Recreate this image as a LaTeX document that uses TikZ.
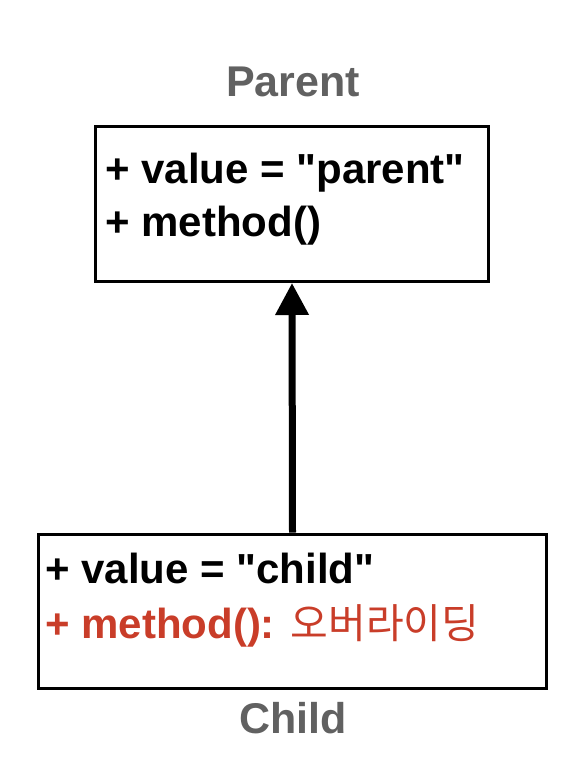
\documentclass[tikz,border=0pt]{standalone}
\usepackage{fontspec}
\setmainfont{Liberation Sans}
\newfontfamily\krfont{Noto Sans CJK KR}
\usetikzlibrary{arrows.meta}
\definecolor{namegray}{RGB}{97,97,97}
\definecolor{overred}{RGB}{201,61,41}

\begin{document}
\begin{tikzpicture}[x=1pt,y=-1pt]
		\useasboundingbox (0,0) rectangle (577,773);
		\node[draw, line width=3pt, minimum width=393pt, minimum height=155pt, inner sep=0pt] (parent) at (292,204) {};
		\node[font=\fontsize{43}{50}\selectfont\bfseries, text=namegray, anchor=base] (parentname) at (293,97) {Parent};
		\node[font=\fontsize{42}{50}\selectfont\bfseries, anchor=base west, inner sep=0pt] (parentvalue) at (105,183) {+ value = \textquotedbl parent\textquotedbl};
		\node[font=\fontsize{42}{50}\selectfont\bfseries, anchor=base west, inner sep=0pt] (parentmethod) at (105,236) {+ method()};
		\node[draw, line width=3pt, minimum width=508pt, minimum height=154pt, inner sep=0pt] (child) at (292.5,611) {};
		\node[font=\fontsize{42}{50}\selectfont\bfseries, anchor=base west, inner sep=0pt] (childvalue) at (45,583) {+ value = \textquotedbl child\textquotedbl};
		\node[font=\fontsize{42}{50}\selectfont\bfseries, text=overred, anchor=base west, inner sep=0pt] (childmethod) at (45,638) {+ method(): {\mdseries\krfont\fontsize{41}{48}\selectfont 오버라이딩}};
		\node[font=\fontsize{43}{50}\selectfont\bfseries, text=namegray, anchor=base] (childname) at (293,733) {Child};
		\draw[-{Triangle[length=32pt,width=32pt]},line width=7pt] (child.north) to (parent.south);
		\end{tikzpicture}
\end{document}
